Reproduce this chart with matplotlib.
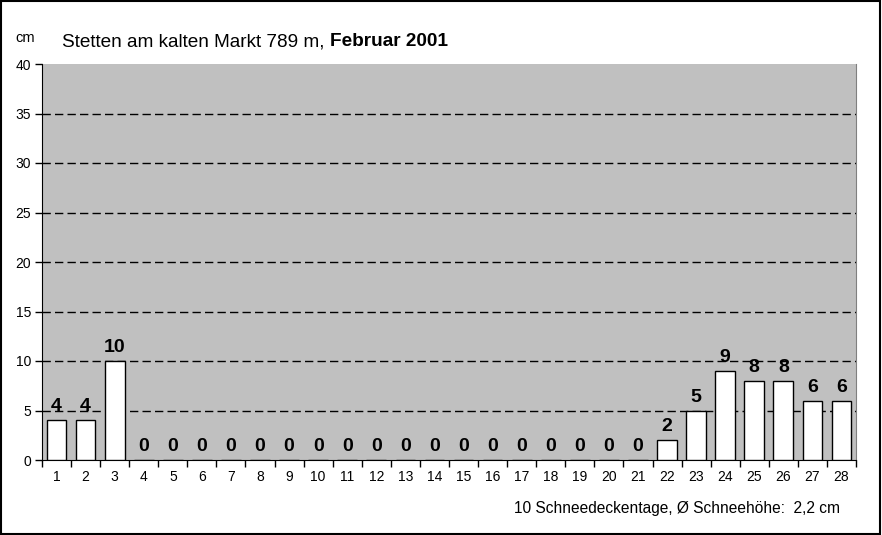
import numpy as np
import matplotlib.pyplot as plt
from matplotlib.patches import Rectangle

plt.rcParams['font.family'] = ['Liberation Sans', 'DejaVu Sans']

tage = list(range(1, 29))
schnee = [4, 4, 10, 0, 0, 0, 0, 0, 0, 0, 0, 0, 0, 0, 0, 0, 0, 0, 0, 0, 0, 2, 5, 9, 8, 8, 6, 6]
yticks = [0, 5, 10, 15, 20, 25, 30, 35, 40]

fig = plt.figure(figsize=(8.82, 5.35), dpi=100)
ax = fig.add_axes([42/882, 75/535, 814/882, 396/535])
ax.set_facecolor('#c0c0c0')

x = np.arange(len(tage))
ax.bar(x, schnee, width=0.68, color='white', edgecolor='black', linewidth=1, zorder=3)
for xi, v in zip(x, schnee):
    ax.text(xi, v + 0.5, str(v), ha='center', va='bottom', fontsize=14, fontweight='bold', zorder=4)

ax.set_xlim(-0.5, len(tage) - 0.5)
ax.set_ylim(0, 40)
ax.set_yticks(yticks)
ax.set_yticklabels([str(t) for t in yticks], fontsize=10)
ax.set_xticks(np.arange(len(tage) + 1) - 0.5, minor=False)
ax.set_xticklabels([])
ax.set_xticks(x, minor=True)
ax.set_xticklabels([str(t) for t in tage], minor=True, fontsize=10)
ax.tick_params(axis='x', which='major', length=5, direction='out', width=1)
ax.tick_params(axis='x', which='minor', length=0, pad=7)
ax.tick_params(axis='y', length=5, width=1, pad=3)
for yv in yticks[1:-1]:
    ax.axhline(yv, color='black', linestyle=(0, (6, 3)), linewidth=1, zorder=1)

ax.spines['top'].set_visible(False)
ax.spines['right'].set_color('#808080')
ax.spines['left'].set_color('black')
ax.spines['bottom'].set_color('black')

fig.text(15/882, 1 - 38/535, 'cm', fontsize=10.5, va='center')
t1 = fig.text(62/882, 1 - 42/535, 'Stetten am kalten Markt 789 m, ', fontsize=13.7, va='center')
fig.canvas.draw()
bb = t1.get_window_extent(renderer=fig.canvas.get_renderer())
fig.text(bb.x1 / 882, 1 - 42/535, 'Februar 2001', fontsize=13.7, fontweight='bold', va='center')
fig.text(840/882, 1 - 509/535, '10 Schneedeckentage, Ø Schneehöhe:  2,2 cm', fontsize=11.2, ha='right', va='center')

fig.patches.append(Rectangle((0.001, 0.002), 0.997, 0.996, transform=fig.transFigure,
                             fill=False, edgecolor='black', linewidth=1.5))

fig.savefig('out.png', dpi=100)
